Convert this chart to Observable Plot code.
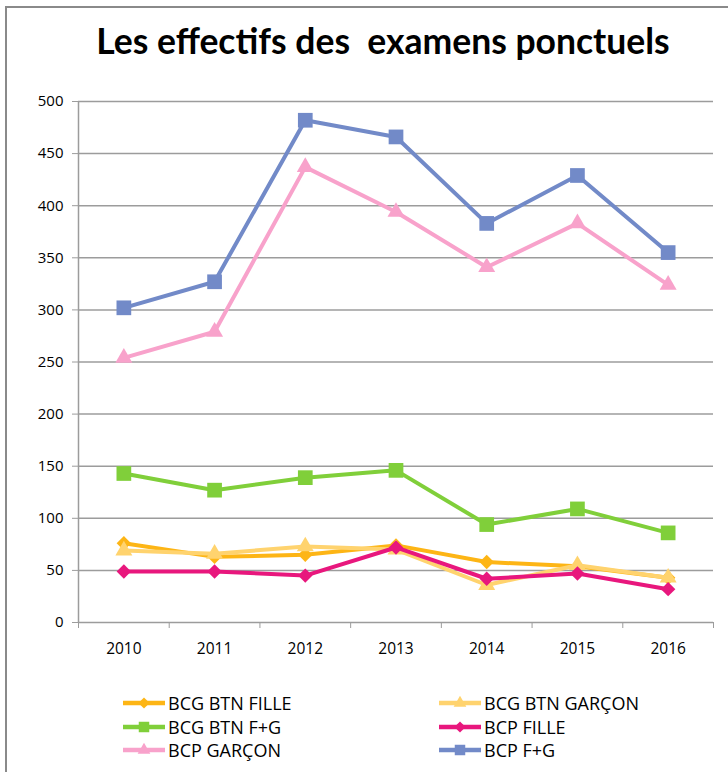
<!DOCTYPE html>
<html>
<head>
<meta charset="utf-8">
<script src="https://cdn.jsdelivr.net/npm/d3@7"></script>
<script src="https://cdn.jsdelivr.net/npm/@observablehq/plot@0.6"></script>
<style>
  html, body { margin: 0; padding: 0; background: #fff; }
  #wrap { position: relative; width: 728px; height: 772px; overflow: hidden; font-family: "Open Sans", sans-serif; }
  #border { position: absolute; left: 5px; top: 6px; width: 800px; height: 800px; border-left: 2px solid #8a8a8a; border-top: 2px solid #8a8a8a; }
  #title { position: absolute; left: 0; width: 766px; top: 19px; text-align: center; font-family: Lato, sans-serif; font-weight: bold; font-size: 35.5px; white-space: pre; color: #000; }
  #chart { position: absolute; left: 0; top: 80px; }
  #legend { position: absolute; left: 0; top: 691px; width: 728px; }
  .li { position: absolute; display: flex; align-items: center; font-size: 18px; color: #000; white-space: pre; }
  .li svg { margin-right: 2px; }
</style>
</head>
<body>
<div id="wrap">
  <div id="border"></div>
  <div id="title">Les effectifs des  examens ponctuels</div>
  <div id="chart"></div>
  <div id="legend"></div>
</div>
<script>
const years = [2010, 2011, 2012, 2013, 2014, 2015, 2016];
const yTicks = [0, 50, 100, 150, 200, 250, 300, 350, 400, 450, 500];

const seriesNames = ["BCG BTN FILLE", "BCG BTN GARÇON", "BCG BTN F+G", "BCP FILLE", "BCP GARÇON", "BCP F+G"];
const bcgBtnFille   = [76, 63, 65, 74, 58, 54, 43];
const bcgBtnGarcon  = [69, 66, 73, 70, 36, 55, 43];
const bcgBtnFG      = [143, 127, 139, 146, 94, 109, 86];
const bcpFille      = [49, 49, 45, 72, 42, 47, 32];
const bcpGarcon     = [254, 279, 437, 394, 341, 383, 324];
const bcpFG         = [302, 327, 482, 466, 383, 429, 355];

const seriesValues = [bcgBtnFille, bcgBtnGarcon, bcgBtnFG, bcpFille, bcpGarcon, bcpFG];
const seriesColors = ["#FDB515", "#FFD36E", "#80CF3A", "#E8177D", "#F8A2CB", "#728AC8"];
const seriesSymbols = ["diamond2", "triangle", "square", "diamond2", "triangle", "square"];
const symbolR = {diamond2: 6.5, triangle: 6.3, square: 8.3};

const boundaries = [...years.map(y => y - 0.5), years[years.length - 1] + 0.5];

const marks = [
  Plot.gridY(yTicks, {stroke: "#9c9c9c", strokeOpacity: 1, strokeWidth: 1.5}),
  Plot.axisY({ticks: yTicks, tickSize: 6, tickPadding: 9, tickFormat: d => String(d), stroke: "#9c9c9c", label: null, fontSize: 15}),
  Plot.ruleX([boundaries[0]], {stroke: "#9c9c9c", strokeWidth: 1.5}),
  Plot.axisX({ticks: boundaries, tickSize: 6, tickFormat: () => "", stroke: "#9c9c9c", label: null}),
  Plot.axisX({ticks: years, tickSize: 0, tickPadding: 20, tickFormat: d => String(d), label: null, fontSize: 15.5})
];

seriesNames.forEach((name, i) => {
  const rows = years.map((yr, j) => ({year: yr, value: seriesValues[i][j]}));
  marks.push(Plot.line(rows, {x: "year", y: "value", stroke: seriesColors[i], strokeWidth: 4, curve: "linear"}));
  marks.push(Plot.dot(rows, {x: "year", y: "value", fill: seriesColors[i], stroke: "none", symbol: seriesSymbols[i], r: symbolR[seriesSymbols[i]]}));
});

const chart = Plot.plot({
  width: 728,
  height: 587,
  marginLeft: 78,
  marginRight: 15,
  marginTop: 21,
  marginBottom: 45,
  x: {type: "linear", domain: [boundaries[0], boundaries[boundaries.length - 1]]},
  y: {domain: [0, 500]},
  style: {fontFamily: "'Open Sans', sans-serif", fontSize: "15px", color: "#000", background: "transparent"},
  marks
});
document.getElementById("chart").appendChild(chart);

// Legend
const legend = document.getElementById("legend");
const symMap = {diamond2: d3.symbolDiamond2, triangle: d3.symbolTriangle, square: d3.symbolSquare};
const legendSize = {diamond2: 80, triangle: 70, square: 110};
seriesNames.forEach((name, i) => {
  const col = i % 2, row = Math.floor(i / 2);
  const item = document.createElement("div");
  item.className = "li";
  item.style.left = (col === 0 ? 122 : 438) + "px";
  item.style.top = (row * 23.5) + "px";
  const path = d3.symbol(symMap[seriesSymbols[i]], legendSize[seriesSymbols[i]])();
  item.innerHTML = `<svg width="44" height="20"><line x1="1" x2="43" y1="10" y2="10" stroke="${seriesColors[i]}" stroke-width="4.5"/><path d="${path}" transform="translate(22,10)" fill="${seriesColors[i]}"/></svg><span>${name}</span>`;
  legend.appendChild(item);
});
</script>
</body>
</html>
